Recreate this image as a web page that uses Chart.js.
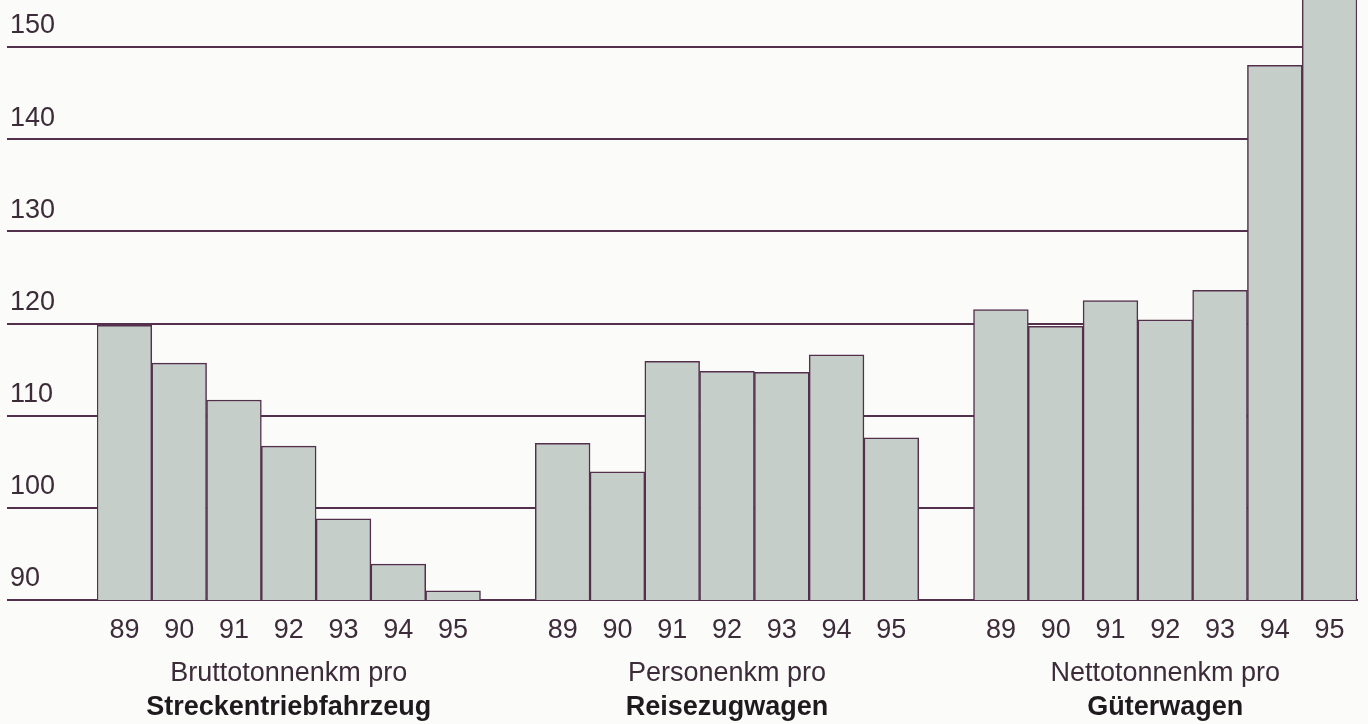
<!DOCTYPE html>
<html>
<head>
<meta charset="utf-8">
<script src="https://cdn.jsdelivr.net/npm/chart.js@4"></script>
<style>
  html, body { margin: 0; padding: 0; background: #fbfbfa; }
  #wrap { width: 1368px; height: 724px; position: relative; }
</style>
</head>
<body>
<div id="wrap"><canvas id="chart"></canvas></div>
<script>
// Values (index, 1989-1995)
const years = ['89', '90', '91', '92', '93', '94', '95'];
const groupTitles = ['Bruttotonnenkm pro', 'Personenkm pro', 'Nettotonnenkm pro'];
const groupNames = ['Streckentriebfahrzeug', 'Reisezugwagen', 'Güterwagen'];
const brutto = [119.8, 115.7, 111.7, 106.7, 98.8, 93.9, 91.0];
const personen = [107.0, 103.9, 115.9, 114.8, 114.7, 116.6, 107.6];
const netto = [121.5, 119.7, 122.5, 120.4, 123.6, 148.0, 157.0];
const yMin = 90;
const yMax = 155.1;
const yStep = 10;

const ink = '#54304c';
const textCol = '#3c2b38';
const font = "'Liberation Sans', Arial, sans-serif";

// one empty slot between the three groups
const series = [brutto, personen, netto];
let labels = [];
let values = [];
let titleRow = [];
let nameRow = [];
series.forEach((s, g) => {
  if (g > 0) {
    labels.push('');
    values.push(null);
    titleRow.push('');
    nameRow.push('');
  }
  s.forEach((v, i) => {
    labels.push(years[i]);
    values.push(v);
    titleRow.push(i === 3 ? groupTitles[g] : '');
    nameRow.push(i === 3 ? groupNames[g] : '');
  });
});

const fixHeight = h => scale => { scale.height = h; };

new Chart(document.getElementById('chart'), {
  type: 'bar',
  data: {
    labels,
    datasets: [{
      data: values,
      backgroundColor: '#c6cec9',
      borderColor: ink,
      borderWidth: 1.5,
      barPercentage: 1,
      categoryPercentage: 1
    }]
  },
  options: {
    responsive: true,
    maintainAspectRatio: false,
    animation: false,
    layout: { padding: { left: 10, right: 11, top: 0, bottom: 0 } },
    plugins: {
      legend: { display: false },
      tooltip: { enabled: false }
    },
    scales: {
      y: {
        min: yMin,
        max: yMax,
        afterFit: scale => {
          scale.width = 87;
          scale.paddingTop = 0;
          scale.paddingBottom = 0;
        },
        border: { display: false },
        grid: {
          color: ink,
          lineWidth: 2,
          drawTicks: true,
          tickLength: 90
        },
        ticks: {
          stepSize: yStep,
          includeBounds: false,
          crossAlign: 'far',
          labelOffset: -21,
          padding: 0,
          color: textCol,
          font: { family: font, size: 27 }
        }
      },
      x: {
        weight: 0,
        afterFit: fixHeight(46),
        grid: { display: false },
        border: { display: true, color: ink, width: 2 },
        ticks: {
          padding: 6,
          autoSkip: false,
          maxRotation: 0,
          color: textCol,
          font: { family: font, size: 27 }
        }
      },
      x2: {
        type: 'category',
        position: 'bottom',
        weight: 1,
        labels: titleRow,
        afterFit: fixHeight(44),
        grid: { display: false },
        border: { display: false },
        ticks: {
          padding: 3,
          autoSkip: false,
          maxRotation: 0,
          color: textCol,
          font: { family: font, size: 27 }
        }
      },
      x3: {
        type: 'category',
        position: 'bottom',
        weight: 2,
        labels: nameRow,
        afterFit: fixHeight(34),
        grid: { display: false },
        border: { display: false },
        ticks: {
          padding: -7,
          autoSkip: false,
          maxRotation: 0,
          color: '#1e1a1d',
          font: { family: font, size: 27, weight: 'bold' }
        }
      }
    }
  }
});
</script>
</body>
</html>
